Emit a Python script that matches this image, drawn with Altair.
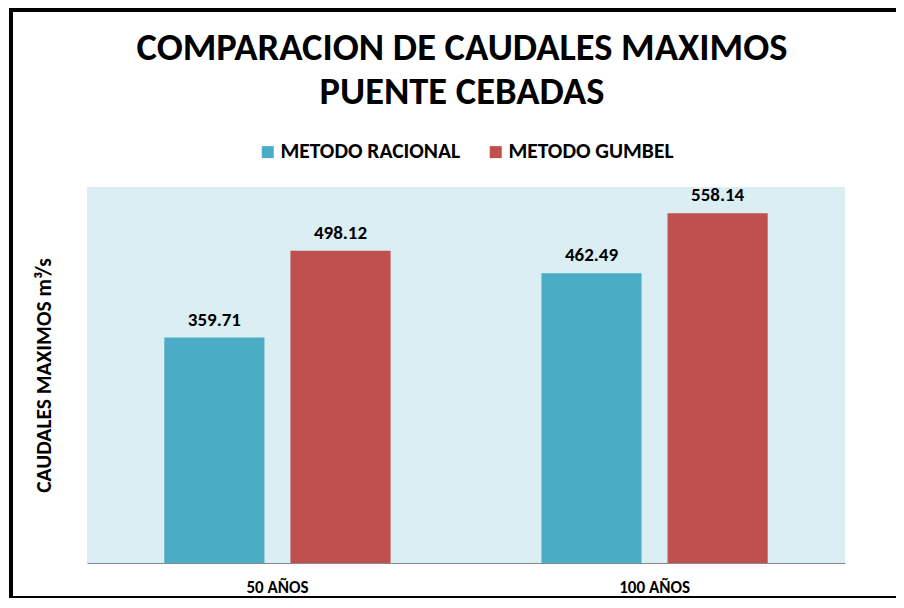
import altair as alt
import pandas as pd

periodos = ["50 AÑOS", "100 AÑOS"]
metodos = ["METODO RACIONAL", "METODO GUMBEL"]
racional = [359.71, 462.49]
gumbel = [498.12, 558.14]
colores = ["#4BACC6", "#C0504D"]

rows = []
for i, p in enumerate(periodos):
    rows.append({"periodo": p, "metodo": metodos[0], "caudal": racional[i]})
    rows.append({"periodo": p, "metodo": metodos[1], "caudal": gumbel[i]})
df = pd.DataFrame(rows)

FONT = "Carlito, 'Liberation Sans Narrow', 'DejaVu Sans Condensed', Roboto, sans-serif"

x = alt.X(
    "periodo:N", sort=periodos,
    scale=alt.Scale(paddingInner=0.4, paddingOuter=0.205),
    axis=alt.Axis(title=None, labelAngle=0, ticks=False, domainColor="#898989",
                  domainWidth=1, labelFont=FONT, labelFontSize=17, labelFontWeight="bold",
                  labelColor="black", labelPadding=29, labelBaseline="alphabetic"),
)
xo = alt.XOffset("metodo:N", sort=metodos, scale=alt.Scale(paddingInner=0.206, paddingOuter=0))
y = alt.Y(
    "caudal:Q", scale=alt.Scale(domain=[0, 600]),
    axis=alt.Axis(title="CAUDALES MAXIMOS m³/s", labels=False, ticks=False, domain=False,
                  grid=False, titleFont=FONT, titleFontSize=21.5, titleFontWeight="bold",
                  titlePadding=32, titleColor="black"),
)
color = alt.Color(
    "metodo:N", sort=metodos,
    scale=alt.Scale(domain=metodos, range=colores),
    legend=alt.Legend(title=None, orient="none", legendX=170, legendY=-46, padding=0,
                      direction="horizontal", symbolType="square", symbolSize=144,
                      symbolStrokeWidth=0, symbolOpacity=1, labelFont=FONT,
                      labelFontSize=21.5, labelFontWeight="bold", labelColor="black",
                      labelOffset=2, labelLimit=400, columnPadding=24),
)

bars = alt.Chart(df).mark_bar(opacity=1).encode(x=x, xOffset=xo, y=y, color=color)
labels = alt.Chart(df).mark_text(
    baseline="alphabetic", dy=-12, font=FONT, fontSize=19, fontWeight="bold", color="black"
).encode(x=x, xOffset=xo, y=y, text=alt.Text("caudal:Q", format=".2f"))

frame = pd.DataFrame({"k": [0]})
left_line = alt.Chart(frame).mark_rule(color="black", strokeWidth=4).encode(
    x=alt.value(-76), y=alt.value(-177), y2=alt.value(410))
top_line = alt.Chart(frame).mark_rule(color="black", strokeWidth=4).encode(
    x=alt.value(-78), x2=alt.value(809), y=alt.value(-177))
bottom_line = alt.Chart(frame).mark_rule(color="black", strokeWidth=2).encode(
    x=alt.value(-78), x2=alt.value(809), y=alt.value(410))

chart = alt.layer(bars, labels, left_line, top_line, bottom_line).properties(
    width=758, height=376,
    title=alt.TitleParams(
        text=["COMPARACION DE CAUDALES MAXIMOS", "PUENTE CEBADAS"],
        font=FONT, fontSize=38.5, fontWeight="bold", color="black",
        anchor="middle", frame="group", offset=-104, lineHeight=44, dx=-4),
    autosize=alt.AutoSizeParams(type="none"),
    padding={"left": 79, "top": 179, "right": 51, "bottom": 35},
    background="white",
).configure_view(fill="#DAEEF3", strokeWidth=0)

chart.save("out.html", embed_options={"renderer": "svg", "actions": False})
